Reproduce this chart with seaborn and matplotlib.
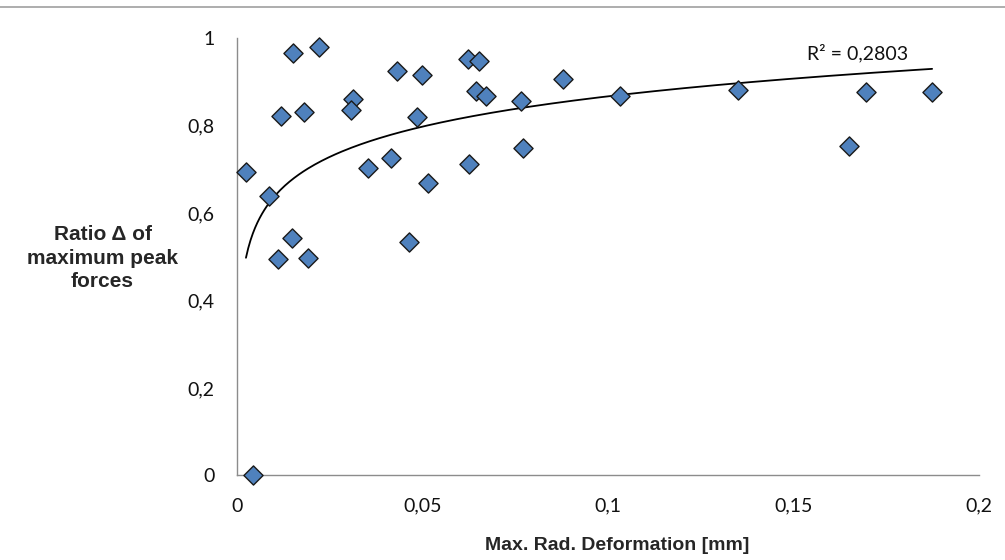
import numpy as np
import pandas as pd
import matplotlib
matplotlib.use("Agg")
import matplotlib.pyplot as plt
from matplotlib.ticker import FuncFormatter
from matplotlib.lines import Line2D
import seaborn as sns

# data
deformation = [0.0025, 0.0045, 0.0088, 0.0119, 0.0151, 0.0111, 0.0148, 0.0182,
               0.0193, 0.0223, 0.0313, 0.0307, 0.0354, 0.0416, 0.0433, 0.0465,
               0.0486, 0.0500, 0.0515, 0.0624, 0.0627, 0.0654, 0.0644, 0.0673,
               0.0765, 0.0771, 0.0880, 0.1034, 0.1350, 0.1650, 0.1697, 0.1874]
ratio = [0.694, 0.000, 0.640, 0.823, 0.966, 0.496, 0.543, 0.832,
         0.498, 0.981, 0.861, 0.835, 0.704, 0.727, 0.926, 0.535,
         0.820, 0.916, 0.668, 0.953, 0.712, 0.949, 0.880, 0.868,
         0.857, 0.749, 0.907, 0.867, 0.882, 0.754, 0.878, 0.877]

# logarithmic trend line as shown in the chart
trend_a = 0.1001
trend_b = 1.0977
r2_label = "R² = 0,2803"

df = pd.DataFrame({"Deformation": deformation, "Ratio": ratio})

sns.set_style("white")
plt.rcParams["font.family"] = ["Lato", "DejaVu Sans"]

fig = plt.figure(figsize=(10.05, 5.6), dpi=100)
ax = fig.add_axes([0.2355, 0.151, 0.7385, 0.7806])

xs = np.linspace(df["Deformation"].min(), df["Deformation"].max(), 300)
ax.plot(xs, trend_a * np.log(xs) + trend_b, color="black", lw=1.3, zorder=2)

sns.scatterplot(data=df, x="Deformation", y="Ratio", marker="D", s=95,
                color="#4F81BD", edgecolor="#1a1a1a", linewidth=1.0,
                ax=ax, zorder=3, clip_on=False)

ax.set_xlim(0, 0.2)
ax.set_ylim(0, 1)
ax.set_xticks([0, 0.05, 0.1, 0.15, 0.2])
ax.set_yticks([0, 0.2, 0.4, 0.6, 0.8, 1.0])
comma = FuncFormatter(lambda v, p: "{:g}".format(round(v, 3)).replace(".", ","))
ax.xaxis.set_major_formatter(comma)
ax.yaxis.set_major_formatter(comma)

for side in ["top", "right"]:
    ax.spines[side].set_visible(False)
for side in ["left", "bottom"]:
    ax.spines[side].set_color("#8c8c8c")
    ax.spines[side].set_linewidth(1.0)
ax.tick_params(axis="both", direction="out", length=6, width=1.0,
               color="#8c8c8c", labelsize=14, labelcolor="#111111")
ax.tick_params(axis="x", pad=10)
ax.tick_params(axis="y", pad=10)

ax.set_xlabel("")
ax.set_ylabel("")
fig.text(0.614, 0.025, "Max. Rad. Deformation [mm]", ha="center", va="center",
         fontsize=14, fontweight="bold", family=["Liberation Sans", "DejaVu Sans"])
fig.text(0.102, 0.539, "Ratio Δ of\nmaximum peak\nforces", ha="center", va="center",
         fontsize=15, fontweight="bold", linespacing=1.3,
         family=["Liberation Sans", "DejaVu Sans"])

ax.text(0.1674, 0.967, r2_label, ha="center", va="center", fontsize=14,
        color="#111111")

fig.add_artist(Line2D([0, 1], [1 - 7 / 560, 1 - 7 / 560], color="#a0a0a0", lw=1.2))

fig.savefig("out.png", dpi=100)
